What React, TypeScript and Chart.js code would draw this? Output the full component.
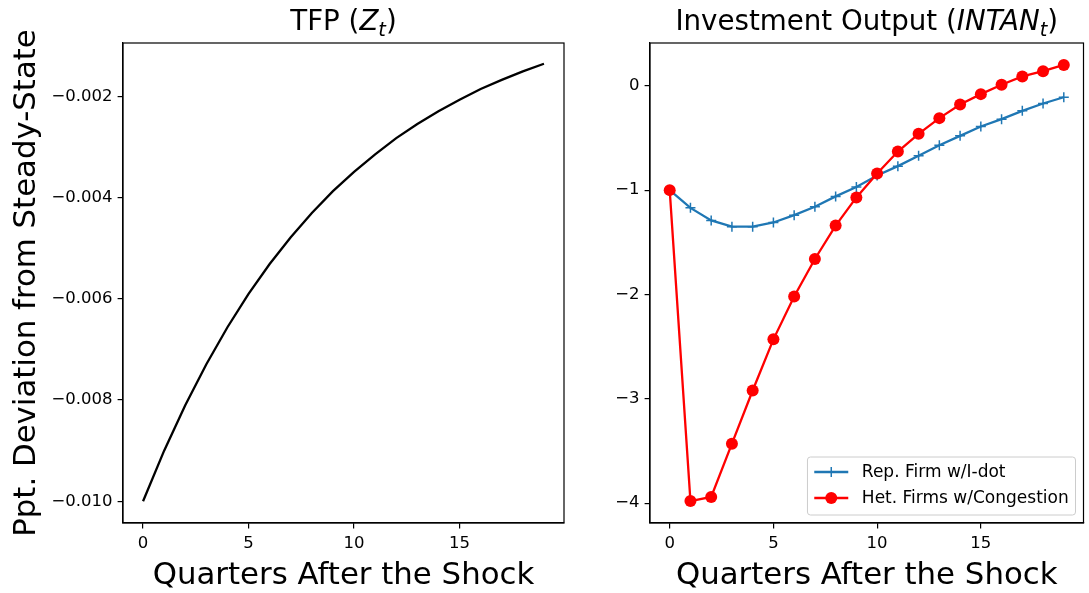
import React, { useEffect, useRef } from "react";
import { Chart, registerables } from "chart.js";

Chart.register(...registerables);

// ---------- data ----------
const quarters = [0, 1, 2, 3, 4, 5, 6, 7, 8, 9, 10, 11, 12, 13, 14, 15, 16, 17, 18, 19];

const tfpValues = [
  -0.01, -0.009, -0.0081, -0.00729, -0.00656, -0.0059, -0.00531, -0.00478, -0.0043, -0.00387,
  -0.00349, -0.00314, -0.00282, -0.00254, -0.00229, -0.00206, -0.00185, -0.00167, -0.0015, -0.00135,
];

const repFirmValues = [
  -1.0, -1.17, -1.29, -1.35, -1.35, -1.31, -1.24, -1.16, -1.06, -0.97,
  -0.86, -0.77, -0.67, -0.57, -0.48, -0.39, -0.32, -0.24, -0.17, -0.11,
];

const hetFirmsValues = [
  -1.0, -3.98, -3.94, -3.43, -2.92, -2.43, -2.02, -1.66, -1.34, -1.07,
  -0.84, -0.63, -0.46, -0.31, -0.18, -0.08, 0.01, 0.09, 0.14, 0.2,
];

const xTicks = [0, 5, 10, 15];
const xTickLabels = ["0", "5", "10", "15"];
const leftYTicks = [-0.01, -0.008, -0.006, -0.004, -0.002];
const leftYTickLabels = ["\u22120.010", "\u22120.008", "\u22120.006", "\u22120.004", "\u22120.002"];
const rightYTicks = [-4, -3, -2, -1, 0];
const rightYTickLabels = ["\u22124", "\u22123", "\u22122", "\u22121", "0"];

const legendLabels = ["Rep. Firm w/I-dot", "Het. Firms w/Congestion"];
const xAxisTitle = "Quarters After the Shock";
const yAxisTitle = "Ppt. Deviation from Steady-State";

const BLUE = "#1f77b4";
const RED = "#ff0000";
const FONT = '"DejaVu Sans", sans-serif';
const TICK_SIZE = 16.5;
const LEGEND_SIZE = 17;
const TITLE_SIZE = 27.7;
const LABEL_SIZE = 30.8;

type Part = { text: string; italic?: boolean; sub?: boolean };

function drawRich(ctx: CanvasRenderingContext2D, parts: Part[], size: number, cx: number, baseline: number) {
  const fontFor = (p: Part) => `${p.italic ? "italic " : ""}${p.sub ? size * 0.7 : size}px ${FONT}`;
  let total = 0;
  const widths = parts.map((p) => {
    ctx.font = fontFor(p);
    const w = ctx.measureText(p.text).width;
    total += w;
    return w;
  });
  let x = cx - total / 2;
  ctx.textAlign = "left";
  ctx.textBaseline = "alphabetic";
  ctx.fillStyle = "#000";
  parts.forEach((p, i) => {
    ctx.font = fontFor(p);
    ctx.fillText(p.text, x, baseline + (p.sub ? size * 0.2 : 0));
    x += widths[i];
  });
}

function makeDecor(title: Part[], showYLabel: boolean, legend: boolean) {
  return {
    id: "decor",
    afterDraw(chart: any) {
      const ctx: CanvasRenderingContext2D = chart.ctx;
      const a = chart.chartArea;
      ctx.save();
      // frame
      ctx.strokeStyle = "#000";
      ctx.lineWidth = 1.2;
      ctx.strokeRect(a.left, a.top, a.right - a.left, a.bottom - a.top);
      // title
      drawRich(ctx, title, TITLE_SIZE, (a.left + a.right) / 2, 30);
      // x label
      ctx.font = `${LABEL_SIZE}px ${FONT}`;
      ctx.textAlign = "center";
      ctx.textBaseline = "alphabetic";
      ctx.fillStyle = "#000";
      ctx.fillText(xAxisTitle, (a.left + a.right) / 2, 584);
      // y label
      if (showYLabel) {
        ctx.save();
        ctx.translate(35, (a.top + a.bottom) / 2);
        ctx.rotate(-Math.PI / 2);
        ctx.fillText(yAxisTitle, 0, 0);
        ctx.restore();
      }
      if (legend) {
        ctx.font = `${LEGEND_SIZE}px ${FONT}`;
        const textW = Math.max(...legendLabels.map((l) => ctx.measureText(l).width));
        const pad = 0.4 * LEGEND_SIZE;
        const handle = 2 * LEGEND_SIZE;
        const gap = 0.8 * LEGEND_SIZE;
        const boxW = pad + handle + gap + textW + pad;
        const boxH = 58;
        const right = a.right - 8;
        const bottom = a.bottom - 8;
        const left = right - boxW;
        const top = bottom - boxH;
        const r = 3;
        ctx.beginPath();
        ctx.moveTo(left + r, top);
        ctx.lineTo(right - r, top);
        ctx.quadraticCurveTo(right, top, right, top + r);
        ctx.lineTo(right, bottom - r);
        ctx.quadraticCurveTo(right, bottom, right - r, bottom);
        ctx.lineTo(left + r, bottom);
        ctx.quadraticCurveTo(left, bottom, left, bottom - r);
        ctx.lineTo(left, top + r);
        ctx.quadraticCurveTo(left, top, left + r, top);
        ctx.closePath();
        ctx.fillStyle = "rgba(255,255,255,0.8)";
        ctx.fill();
        ctx.strokeStyle = "#cccccc";
        ctx.lineWidth = 1;
        ctx.stroke();
        const rows = [top + 15, top + 41];
        const hx0 = left + pad;
        const hx1 = hx0 + handle;
        const hm = (hx0 + hx1) / 2;
        // row 1: blue with cross
        ctx.strokeStyle = BLUE;
        ctx.lineWidth = 2.3;
        ctx.beginPath();
        ctx.moveTo(hx0, rows[0]);
        ctx.lineTo(hx1, rows[0]);
        ctx.stroke();
        ctx.lineWidth = 1.5;
        ctx.beginPath();
        ctx.moveTo(hm, rows[0] - 5);
        ctx.lineTo(hm, rows[0] + 5);
        ctx.moveTo(hm - 5, rows[0]);
        ctx.lineTo(hm + 5, rows[0]);
        ctx.stroke();
        // row 2: red with circle
        ctx.strokeStyle = RED;
        ctx.lineWidth = 2.3;
        ctx.beginPath();
        ctx.moveTo(hx0, rows[1]);
        ctx.lineTo(hx1, rows[1]);
        ctx.stroke();
        ctx.fillStyle = RED;
        ctx.beginPath();
        ctx.arc(hm, rows[1], 6, 0, Math.PI * 2);
        ctx.fill();
        // texts
        ctx.fillStyle = "#000";
        ctx.textAlign = "left";
        ctx.textBaseline = "middle";
        ctx.font = `${LEGEND_SIZE}px ${FONT}`;
        legendLabels.forEach((l, i) => ctx.fillText(l, hx1 + gap, rows[i] + 1));
      }
      ctx.restore();
    },
  };
}

function axisCommon(ticks: number[], labels: string[]) {
  return {
    type: "linear" as const,
    afterBuildTicks: (s: any) => {
      s.ticks = ticks.map((v) => ({ value: v }));
    },
    ticks: {
      color: "#000",
      font: { family: FONT, size: TICK_SIZE },
      padding: 5,
      maxRotation: 0,
      autoSkip: false,
      callback: (_v: any, i: number) => labels[i],
    },
    grid: {
      display: true,
      drawOnChartArea: false,
      drawTicks: true,
      tickLength: 5.4,
      color: "#000",
      lineWidth: 1.2,
    },
    border: { display: true, color: "#000", width: 1.2 },
  };
}

function xFit(s: any) {
  s.height = 70;
  s.paddingLeft = 0;
  s.paddingRight = 0;
}

export default function App() {
  const leftRef = useRef<HTMLCanvasElement>(null);
  const rightRef = useRef<HTMLCanvasElement>(null);

  useEffect(() => {
    document.body.style.margin = "0";
    const left = new Chart(leftRef.current!, {
      type: "line",
      data: {
        datasets: [
          {
            data: quarters.map((q, i) => ({ x: q, y: tfpValues[i] })),
            borderColor: "#000",
            borderWidth: 2.3,
            pointRadius: 0,
            tension: 0,
            fill: false,
          },
        ],
      },
      options: {
        responsive: false,
        animation: false,
        devicePixelRatio: 1,
        layout: { padding: { top: 43, right: 36, left: 0, bottom: 0 } },
        plugins: { legend: { display: false }, tooltip: { enabled: false }, title: { display: false } },
        scales: {
          x: {
            ...axisCommon(xTicks, xTickLabels),
            min: -0.95,
            max: 19.95,
            afterFit: xFit,
          },
          y: {
            ...axisCommon(leftYTicks, leftYTickLabels),
            min: -0.01043,
            max: -0.00094,
            afterFit: (s: any) => {
              s.width = 123;
            },
          },
        },
      },
      plugins: [makeDecor([{ text: "TFP (" }, { text: "Z", italic: true }, { text: "t", italic: true, sub: true }, { text: ")" }], true, false)],
    } as any);

    const right = new Chart(rightRef.current!, {
      type: "line",
      data: {
        datasets: [
          {
            label: legendLabels[0],
            data: quarters.map((q, i) => ({ x: q, y: repFirmValues[i] })),
            borderColor: BLUE,
            backgroundColor: BLUE,
            borderWidth: 2.3,
            pointStyle: "cross",
            pointRadius: 5,
            pointBorderWidth: 1.5,
            pointBorderColor: BLUE,
            tension: 0,
            fill: false,
            order: 1,
          },
          {
            label: legendLabels[1],
            data: quarters.map((q, i) => ({ x: q, y: hetFirmsValues[i] })),
            borderColor: RED,
            backgroundColor: RED,
            borderWidth: 2.3,
            pointStyle: "circle",
            pointRadius: 6,
            pointBorderWidth: 0,
            pointBackgroundColor: RED,
            tension: 0,
            fill: false,
            order: 0,
            clip: false,
          },
        ],
      },
      options: {
        responsive: false,
        animation: false,
        devicePixelRatio: 1,
        layout: { padding: { top: 43, right: 0, left: 0, bottom: 0 } },
        plugins: { legend: { display: false }, tooltip: { enabled: false }, title: { display: false } },
        scales: {
          x: {
            ...axisCommon(xTicks, xTickLabels),
            min: -0.95,
            max: 19.95,
            afterFit: xFit,
          },
          y: {
            ...axisCommon(rightYTicks, rightYTickLabels),
            min: -4.19,
            max: 0.41,
            afterFit: (s: any) => {
              s.width = 50;
            },
          },
        },
      },
      plugins: [
        makeDecor(
          [{ text: "Investment Output (" }, { text: "INTAN", italic: true }, { text: "t", italic: true, sub: true }, { text: ")" }],
          false,
          true
        ),
      ],
    } as any);

    return () => {
      left.destroy();
      right.destroy();
    };
  }, []);

  return (
    <div style={{ position: "relative", width: 1089, height: 593, overflow: "hidden", background: "#fff" }}>
      <canvas ref={leftRef} width={600} height={593} style={{ position: "absolute", left: 0, top: 0 }} />
      <canvas ref={rightRef} width={490} height={593} style={{ position: "absolute", left: 600, top: 0 }} />
    </div>
  );
}
